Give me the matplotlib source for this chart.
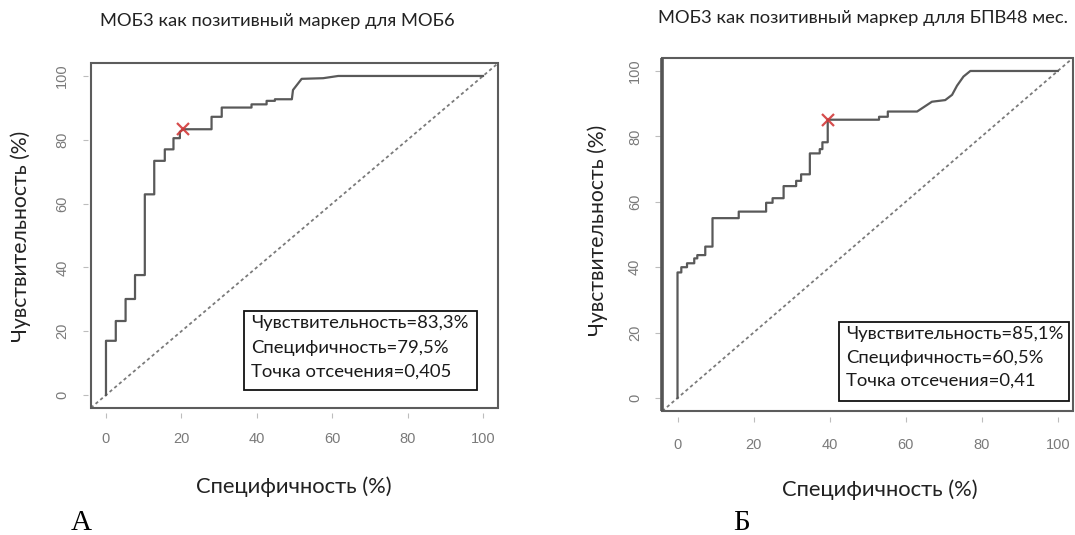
import matplotlib
matplotlib.use("Agg")
import matplotlib.pyplot as plt
from matplotlib.patches import Rectangle

# ---- data -------------------------------------------------------------
# Panel A: МОБ3 -> МОБ6 (x = 100 - specificity, y = sensitivity, %)
a_fpr = [0, 0, 2.6, 2.6, 5.2, 5.2, 7.7, 7.7, 10.3, 10.3, 12.8, 12.8,
         15.6, 15.6, 17.9, 17.9, 19.6, 19.6, 20.5, 28.0, 28.0, 30.7, 30.7,
         38.6, 38.6, 42.6, 42.6, 44.8, 44.8, 49.3, 49.6, 51.9, 57.6, 61.6, 100]
a_sens = [0, 17.0, 17.0, 23.2, 23.2, 30.1, 30.1, 37.6, 37.6, 62.9, 62.9, 73.4,
          73.4, 77.0, 77.0, 80.5, 80.5, 82.5, 83.3, 83.3, 87.2, 87.2, 90.1,
          90.1, 91.1, 91.1, 92.2, 92.2, 92.7, 92.7, 95.6, 99.1, 99.3, 100, 100]
a_cut_sens = 83.3
a_cut_spec = 79.5
a_cutoff = 0.405

# Panel Б: МОБ3 -> БПВ48 мес.
b_fpr = [0, 0, 1.0, 1.0, 2.5, 2.5, 4.4, 4.4, 5.2, 5.2, 7.3, 7.3, 9.2, 9.2,
         16.1, 16.1, 23.3, 23.3, 25.0, 25.0, 27.9, 27.9, 31.2, 31.2, 32.5,
         32.5, 34.8, 34.8, 37.4, 37.4, 38.1, 38.1, 39.5, 39.5, 53.0, 53.0,
         55.3, 55.3, 63.0, 66.9, 70.4, 72.2, 73.5, 75.2, 77.0, 100]
b_sens = [0, 38.4, 38.4, 40.0, 40.0, 41.2, 41.2, 42.7, 42.7, 43.7, 43.7,
          46.3, 46.3, 55.0, 55.0, 57.0, 57.0, 59.7, 59.7, 61.1, 61.1, 64.8,
          64.8, 66.4, 66.4, 68.4, 68.4, 74.8, 74.8, 76.1, 76.1, 78.2, 78.2,
          85.1, 85.1, 86.0, 86.0, 87.6, 87.6, 90.6, 91.1, 92.7, 95.5, 98.3,
          100, 100]
b_cut_sens = 85.1
b_cut_spec = 60.5
b_cutoff = 0.41

ticks = [0, 20, 40, 60, 80, 100]
tick_labels = ["0", "20", "40", "60", "80", "100"]

title_a = "МОБ3 как позитивный маркер для МОБ6"
title_b = "МОБ3 как позитивный маркер длля БПВ48 мес."
ylabel = "Чувствительность (%)"
xlabel = "Специфичность (%)"

# ---- figure -----------------------------------------------------------
W, H = 1075, 535
fig = plt.figure(figsize=(W / 100, H / 100), dpi=100)
fig.patch.set_facecolor("white")

TEXT_FONT = ["Lato", "DejaVu Sans"]
TICK_FONT = ["Liberation Sans", "DejaVu Sans"]
SERIF = ["Liberation Serif", "DejaVu Serif"]


def fx(px):
    return px / W


def fy(py):
    return 1 - py / H


def rect_px(x0, x1, ytop, ybot):
    return [x0 / W, 1 - ybot / H, (x1 - x0) / W, (ybot - ytop) / H]


def num(v, fmt):
    return format(v, fmt).replace(".", ",")


def roc_panel(rect, fpr, sens, cut_sens, cut_spec, left_lw, xpad, ypad):
    ax = fig.add_axes(rect)
    ax.set_xlim(-4, 104)
    ax.set_ylim(-4, 104)
    # chance diagonal
    ax.plot([-4, 104], [-4, 104], color="#7a7a7a", lw=1.3,
            ls=(0, (1.8, 1.6)), zorder=2)
    # ROC curve
    ax.plot(fpr, sens, color="#595959", lw=1.6, zorder=3)
    # optimal cut-off
    ax.plot([100 - cut_spec], [cut_sens], marker="x", ms=8, mew=1.6,
            color="#d23a3a", alpha=0.9, zorder=4)

    for s in ax.spines.values():
        s.set_visible(False)
    ax.spines["bottom"].set_position(("outward", 4))
    ax.spines["left"].set_position(("outward", 2))
    ax.add_patch(Rectangle((0, 0), 1, 1, transform=ax.transAxes, fill=False,
                           ec="#5c5c5c", lw=1.5, clip_on=False, zorder=5))
    if left_lw:
        ax.plot([0, 0], [0, 1], transform=ax.transAxes, color="#555555",
                lw=left_lw, clip_on=False, zorder=5, solid_capstyle="butt")

    ax.set_xticks(ticks, tick_labels)
    ax.set_yticks(ticks, tick_labels)
    ax.tick_params(direction="out", length=3.6, width=0.8, color="#bdbdbd",
                   labelcolor="#7a7a7a", labelsize=10.5)
    ax.tick_params(axis="x", pad=xpad)
    ax.tick_params(axis="y", pad=ypad, labelrotation=90)
    for lbl in ax.get_yticklabels():
        lbl.set_va("center")
    for lbl in ax.get_xticklabels() + ax.get_yticklabels():
        lbl.set_fontfamily(TICK_FONT)
    return ax


def legend_box(x0, x1, ytop, ybot, tx, tys, lines):
    fig.add_artist(Rectangle((fx(x0), fy(ybot)), (x1 - x0) / W,
                             (ybot - ytop) / H, transform=fig.transFigure,
                             fill=False, ec="#111111", lw=1.3, zorder=6))
    for ty, line in zip(tys, lines):
        fig.text(fx(tx), fy(ty), line, ha="left", va="center", fontsize=13.3,
                 family=TEXT_FONT, color="#1a1a1a", zorder=7)


# Panel A
roc_panel(rect_px(90.9, 498.1, 63.2, 407.8), a_fpr, a_sens,
          a_cut_sens, a_cut_spec, 0, 10, 10)
fig.text(fx(277), fy(20.7), title_a, ha="center", va="center",
         fontsize=13.2, family=TEXT_FONT, color="#222222")
fig.text(fx(20.7), fy(236), ylabel, rotation=90, ha="center", va="center",
         fontsize=15.2, family=TEXT_FONT, color="#222222")
fig.text(fx(294), fy(486.7), xlabel, ha="center", va="center",
         fontsize=15.8, family=TEXT_FONT, color="#222222")
legend_box(243.5, 477, 311, 390, 251.4, [323.3, 348.3, 371.7],
           ["Чувствительность=" + num(a_cut_sens, ".1f") + "%",
            "Специфичность=" + num(a_cut_spec, ".1f") + "%",
            "Точка отсечения=" + num(a_cutoff, "g")])
fig.text(fx(81.3), fy(529.5), "А", ha="center", va="baseline", fontsize=21,
         family=SERIF, color="black")

# Panel Б
roc_panel(rect_px(662.3, 1073, 57.9, 411.1), b_fpr, b_sens,
          b_cut_sens, b_cut_spec, 2.6, 12, 9)
fig.text(fx(863), fy(18.3), title_b, ha="center", va="center",
         fontsize=13.2, family=TEXT_FONT, color="#222222")
fig.text(fx(598), fy(230), ylabel, rotation=90, ha="center", va="center",
         fontsize=15.2, family=TEXT_FONT, color="#222222")
fig.text(fx(879.6), fy(489.3), xlabel, ha="center", va="center",
         fontsize=15.8, family=TEXT_FONT, color="#222222")
legend_box(839.3, 1069, 321.7, 400.7, 846.1, [334, 357.7, 380.7],
           ["Чувствительность=" + num(b_cut_sens, ".1f") + "%",
            "Специфичность=" + num(b_cut_spec, ".1f") + "%",
            "Точка отсечения=" + num(b_cutoff, "g")])
fig.text(fx(741.4), fy(529.5), "Б", ha="center", va="baseline", fontsize=21,
         family=SERIF, color="black")

fig.savefig("out.png", dpi=100, facecolor="white")
